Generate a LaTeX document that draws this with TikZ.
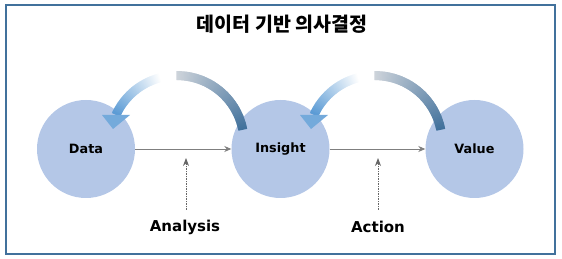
\documentclass[tikz,border=0pt]{standalone}
\usepackage{fontspec}
\setmainfont{DejaVu Sans}
\newfontfamily\krfont{Noto Sans CJK KR}
\usepackage{tikz}
\usetikzlibrary{arrows.meta}
\usetikzlibrary{calc}

\definecolor{stageblue}{HTML}{B4C7E7}
\definecolor{framecol}{HTML}{41719C}
\definecolor{loopdark}{HTML}{41719C}
\definecolor{looplight}{HTML}{CDD3DA}
\definecolor{loopblue}{HTML}{5B9BD5}
\definecolor{loopwhite}{HTML}{F2F6FB}
\definecolor{flowgray}{HTML}{7F7F7F}
\definecolor{causegray}{HTML}{666666}

\tikzset{
  stage/.style={circle, fill=stageblue, minimum size=98pt, inner sep=0pt,
    font=\bfseries\fontsize{12.8}{14}\selectfont},
  flow/.style={-{Stealth[length=7pt,width=6pt]}, flowgray, line width=0.9pt},
  cause/.style={-{Stealth[length=8pt,width=6pt]}, causegray, line width=0.8pt,
    dash pattern=on 1.5pt off 1pt},
  phase/.style={font=\bfseries\fontsize{15}{18}\selectfont},
}

% curved return arrow round a centre
\newcommand{\drawloop}[1]{%
  \foreach \a in {11,...,89} {
    \pgfmathsetmacro\mixpct{100*(89-\a)/78}
    \draw[line width=9pt, loopdark!\mixpct!looplight]
      (#1) ++(\a:67) arc[start angle=\a, end angle=\a+1.6, radius=67];
  }
  \foreach \a in {104,...,154} {
    \pgfmathsetmacro\mixpct{100*(\a-104)/50}
    \draw[line width=9pt, loopblue!\mixpct!white]
      (#1) ++(\a:67) arc[start angle=\a, end angle=\a+1.6, radius=67];
  }
  \fill[loopblue!85!white] ($(#1)+(-75,27.6)$) -- ($(#1)+(-47,27.6)$)
    -- ($(#1)+(-64,13.6)$) -- cycle;
}

\begin{document}
\begin{tikzpicture}[x=1pt,y=1pt]

    \useasboundingbox (0,0) rectangle (562,259);

    % frame
    \draw[framecol, line width=1.5pt] (6,254) rectangle (555,5);

    % title
    \node[font=\krfont\bfseries\fontsize{19.5}{22}\selectfont] (title) at (282,235)
      {데이터 기반 의사결정};

    % stages
    \node[stage] (data) at (86,110) {Data};
    \node[stage] (insight) at (280.5,110) {Insight};
    \node[stage] (value) at (474.5,110) {Value};

    \draw[flow] (data) -- (insight);
    \draw[flow] (insight) -- (value);

    % return arrows
    \coordinate (loopA) at (177,116.4);
    \coordinate (loopB) at (375,116.4);
    \drawloop{loopA}
    \drawloop{loopB}

    % phases
    \node[phase] (analysis) at (185,32) {Analysis};
    \node[phase] (action) at (378,32) {Action};

    \coordinate (analysisFoot) at (186,49);
    \coordinate (analysisTip) at (186,101);
    \coordinate (actionFoot) at (378,49);
    \coordinate (actionTip) at (378,101);
    \draw[cause] (analysisFoot) -- (analysisTip);
    \draw[cause] (actionFoot) -- (actionTip);

\end{tikzpicture}
\end{document}
